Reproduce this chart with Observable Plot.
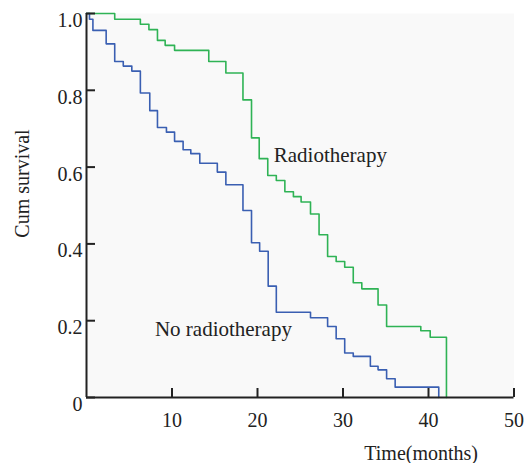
<!DOCTYPE html>
<html>
<head>
<meta charset="utf-8">
<script src="https://cdn.jsdelivr.net/npm/d3@7"></script>
<script src="https://cdn.jsdelivr.net/npm/@observablehq/plot@0.6"></script>
<style>
  html, body { margin: 0; padding: 0; background: #ffffff; }
  #chart svg { display: block; }
</style>
</head>
<body>
<div id="chart"></div>
<script>
// Radiotherapy group (months, cumulative survival)
const rtTime = [0, 3.3, 6.3, 7.3, 8.3, 9.2, 10.3, 14.3, 16.3, 18.3, 19.3, 20.2, 21.2, 22.2, 23.2, 24.2, 25.1, 26.2, 27.2, 28.2, 29.2, 30.2, 31.2, 32.2, 34.1, 35.1, 39.1, 40.2, 42.1];
const rtSurv = [1.0, 0.985, 0.972, 0.958, 0.93, 0.917, 0.904, 0.875, 0.845, 0.775, 0.676, 0.622, 0.578, 0.565, 0.536, 0.523, 0.509, 0.478, 0.424, 0.367, 0.354, 0.339, 0.299, 0.283, 0.241, 0.185, 0.174, 0.157, 0];

// No radiotherapy group
const noRtTime = [0, 0.35, 0.75, 2.3, 3.3, 4.3, 5.3, 6.3, 7.4, 8.3, 9.35, 10.3, 11.3, 12.2, 13.25, 15.3, 16.3, 18.3, 19.3, 20.25, 21.25, 22.2, 26.2, 28.2, 29.2, 30.2, 31.2, 33.2, 34.1, 35.1, 36.1, 41.2];
const noRtSurv = [1.0, 0.985, 0.956, 0.921, 0.875, 0.863, 0.85, 0.793, 0.747, 0.703, 0.691, 0.667, 0.645, 0.635, 0.61, 0.587, 0.554, 0.487, 0.403, 0.381, 0.29, 0.222, 0.2076, 0.185, 0.153, 0.116, 0.107, 0.0815, 0.072, 0.049, 0.027, 0];

const xTicks = [10, 20, 30, 40, 50];
const yTicks = [0, 0.2, 0.4, 0.6, 0.8, 1.0];

const groupNames = ["Radiotherapy", "No radiotherapy"];
const groupColors = ["#2fb355", "#3a5fb2"];
const labelTime = [21.9, 8.0];
const labelSurv = [0.63, 0.177];

const rows = [
  ...rtTime.map((t, i) => ({t, s: rtSurv[i], g: groupNames[0]})),
  ...noRtTime.map((t, i) => ({t, s: noRtSurv[i], g: groupNames[1]}))
];
const labels = groupNames.map((g, i) => ({g, t: labelTime[i], s: labelSurv[i]}));

const font = "'Liberation Serif', 'DejaVu Serif', serif";

const chart = Plot.plot({
  width: 524,
  height: 463,
  marginLeft: 86,
  marginRight: 10.5,
  marginTop: 13,
  marginBottom: 66,
  style: {fontFamily: font, fontSize: "20px", color: "#222", background: "#ffffff"},
  x: {domain: [0, 50]},
  y: {domain: [0, 1]},
  color: {domain: groupNames, range: groupColors},
  marks: [
    Plot.frame({fill: "#f9f9f9", stroke: null}),
    Plot.line(rows, {x: "t", y: "s", z: "g", stroke: "g", strokeWidth: 1.6, curve: "step-after"}),
    Plot.text(labels, {x: "t", y: "s", text: "g", textAnchor: "start", fill: "#222", fontSize: 21}),
    // x ticks (inward) and labels
    Plot.axisX({ticks: xTicks, tickSize: -9, tickFormat: () => "", strokeWidth: 2, stroke: "#222", label: null}),
    Plot.axisX({ticks: xTicks, tickSize: 0, tickPadding: 15, tickFormat: d => String(d), fontSize: 20, fill: "#222", label: null}),
    // y ticks (inward) and labels
    Plot.axisY({ticks: yTicks, tickSize: -9, tickFormat: () => "", strokeWidth: 2, stroke: "#222", label: null}),
    Plot.axisY({ticks: yTicks, tickSize: 0, tickPadding: 4, dy: 7, tickFormat: d => d === 0 ? "0" : d.toFixed(1), fontSize: 20, fill: "#222", label: null}),
    Plot.ruleY([0], {stroke: "#222", strokeWidth: 2}),
    Plot.ruleX([0], {stroke: "#222", strokeWidth: 2}),
    Plot.text(["Cum survival"], {frameAnchor: "left", textAnchor: "middle", dx: -64, dy: -22, rotate: -90, fill: "#222", fontSize: 20}),
    Plot.text(["Time(months)"], {frameAnchor: "bottom-right", textAnchor: "end", lineAnchor: "middle", dx: -36, dy: 56, fill: "#222", fontSize: 20})
  ]
});
document.getElementById("chart").appendChild(chart);
</script>
</body>
</html>
